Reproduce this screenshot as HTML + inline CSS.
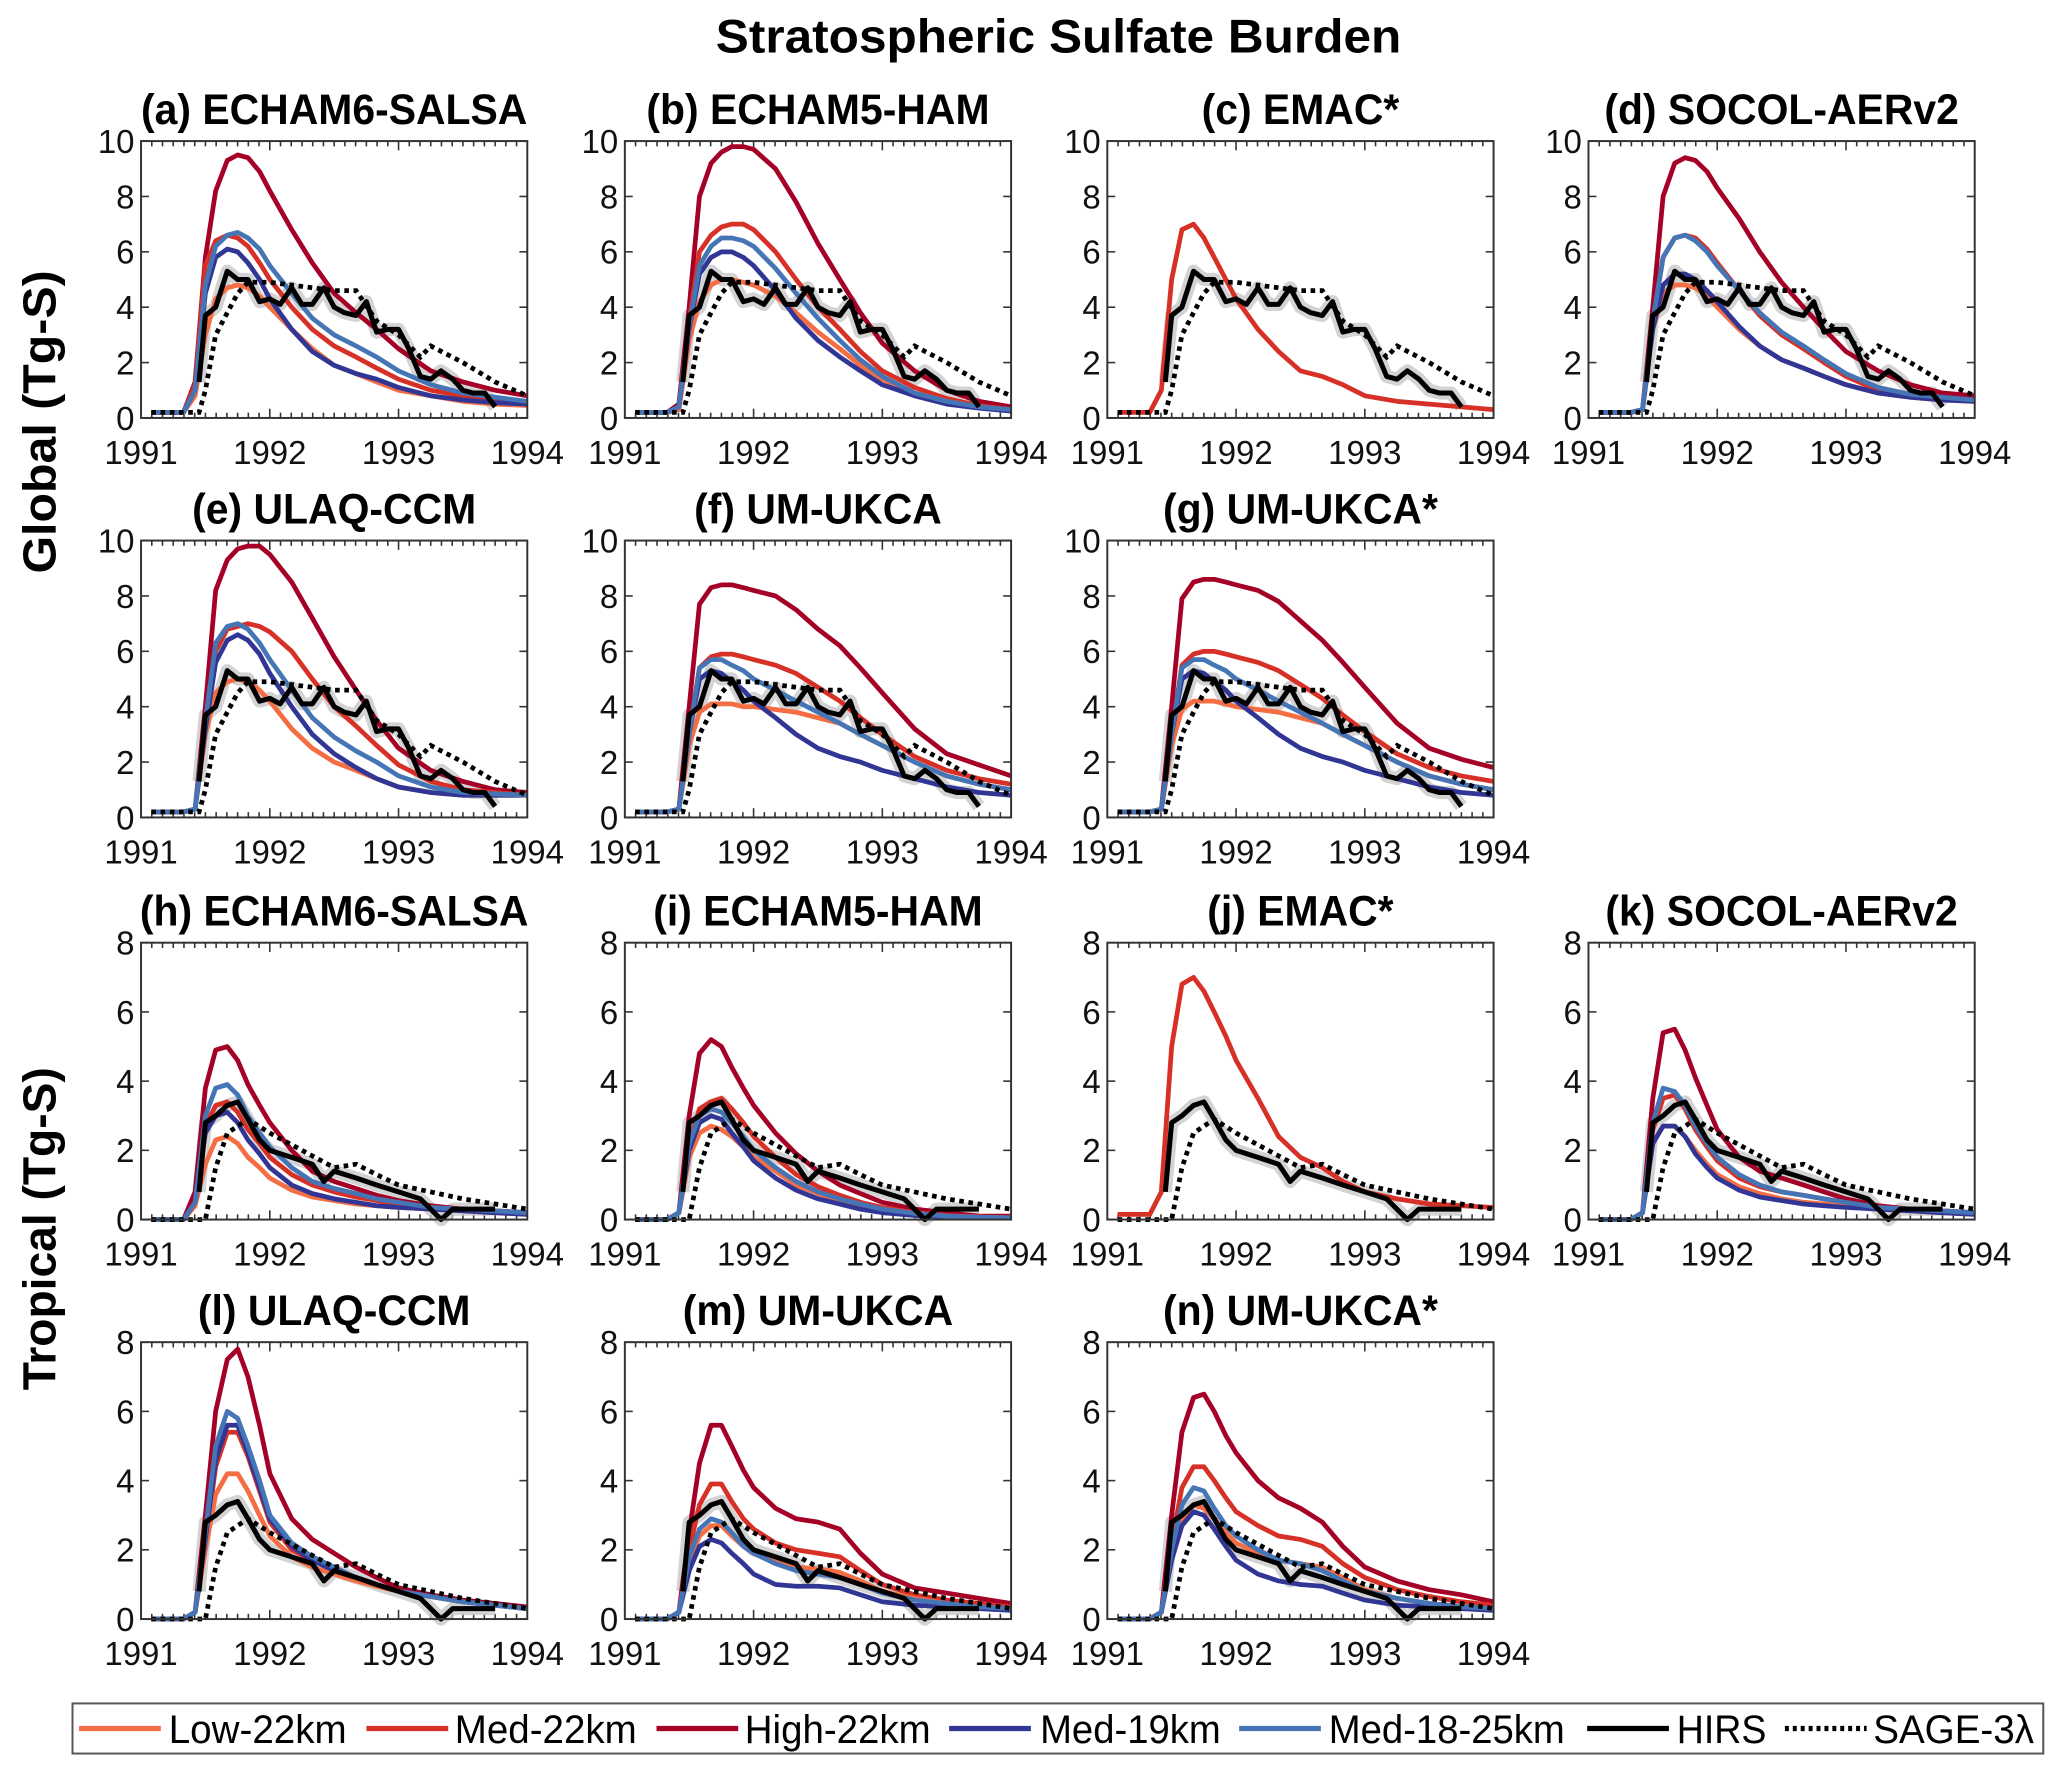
<!DOCTYPE html>
<html><head><meta charset="utf-8">
<style>
html,body{margin:0;padding:0;background:#fff;}
svg{display:block;font-family:"Liberation Sans",sans-serif;}
</style></head>
<body>
<svg id="fig" width="2067" height="1772" viewBox="0 0 1568 1344" preserveAspectRatio="none" xmlns="http://www.w3.org/2000/svg">
<rect width="1568" height="1344" fill="#fff"/>
<text x="803" y="40" text-anchor="middle" font-size="36" font-weight="bold" textLength="520" lengthAdjust="spacingAndGlyphs">Stratospheric Sulfate Burden</text>
<text transform="translate(42,320) rotate(-90)" text-anchor="middle" font-size="35" font-weight="bold" textLength="230" lengthAdjust="spacingAndGlyphs">Global (Tg-S)</text>
<text transform="translate(42,932) rotate(-90)" text-anchor="middle" font-size="35" font-weight="bold" textLength="245" lengthAdjust="spacingAndGlyphs">Tropical (Tg-S)</text>
<g id="panels"></g>
<g id="legend"></g>
</svg>
<script>
const T = [1991.08,1991.33,1991.42,1991.5,1991.58,1991.67,1991.75,1991.83,1991.92,1992.0,1992.17,1992.33,1992.5,1992.67,1992.83,1993.0,1993.25,1993.5,1993.75,1994.0];
const hirsGT = [1991.45,1991.5,1991.58,1991.67,1991.75,1991.83,1991.92,1992.0,1992.08,1992.17,1992.25,1992.33,1992.42,1992.5,1992.58,1992.67,1992.75,1992.83,1992.92,1993.0,1993.08,1993.17,1993.25,1993.33,1993.42,1993.5,1993.58,1993.67,1993.75];
const hirsG = [1.3,3.7,4.0,5.3,5.0,5.0,4.2,4.3,4.1,4.7,4.1,4.1,4.7,4.0,3.8,3.7,4.2,3.1,3.2,3.2,2.5,1.5,1.4,1.7,1.4,1.0,0.9,0.9,0.4];
const hirsTT = [1991.45,1991.5,1991.58,1991.67,1991.75,1991.83,1991.92,1992.0,1992.17,1992.33,1992.42,1992.5,1992.67,1992.83,1993.0,1993.17,1993.33,1993.42,1993.58,1993.75];
const hirsTr = [0.8,2.8,3.0,3.3,3.4,2.9,2.3,2.0,1.8,1.6,1.1,1.4,1.2,1.0,0.8,0.6,0.0,0.3,0.3,0.3];
const sageGT = [1991.08,1991.45,1991.5,1991.58,1991.67,1991.75,1991.83,1992.0,1992.5,1992.67,1992.83,1993.0,1993.17,1993.25,1993.5,1993.75,1994.0];
const sageG = [0.2,0.2,1.0,3.0,3.8,4.5,4.9,4.9,4.6,4.6,3.5,3.0,2.2,2.6,2.0,1.3,0.8];
const sageTT = [1991.08,1991.5,1991.58,1991.67,1991.83,1992.0,1992.25,1992.5,1992.67,1992.83,1993.0,1993.5,1994.0];
const sageTr = [0,0,1.5,2.5,2.9,2.5,2.0,1.5,1.6,1.3,1.0,0.6,0.3];

const panelTitles = ["(a) ECHAM6-SALSA","(b) ECHAM5-HAM","(c) EMAC*","(d) SOCOL-AERv2","(e) ULAQ-CCM","(f) UM-UKCA","(g) UM-UKCA*","(h) ECHAM6-SALSA","(i) ECHAM5-HAM","(j) EMAC*","(k) SOCOL-AERv2","(l) ULAQ-CCM","(m) UM-UKCA","(n) UM-UKCA*"];
const seriesNames = ["High-22km","Med-22km","Low-22km","Med-19km","Med-18-25km"];
const yTicksGlobal = [0,2,4,6,8,10];
const yTicksTrop = [0,2,4,6,8];
const xTicks = [1991,1992,1993,1994];

const dA = [
[0.2,0.2,1.3,5.8,8.2,9.3,9.5,9.4,8.9,8.2,6.8,5.6,4.5,3.8,3.2,2.5,1.7,1.3,1.0,0.8],
[0.2,0.2,1.2,5.5,6.4,6.6,6.5,6.2,5.6,5.0,4.0,3.2,2.6,2.2,1.8,1.4,1.0,0.8,0.65,0.55],
[0.2,0.2,0.8,3.0,4.3,4.7,4.8,4.7,4.4,4.0,3.2,2.5,1.9,1.6,1.3,1.0,0.8,0.6,0.5,0.45],
[0.2,0.2,1.0,4.5,5.8,6.1,6.0,5.6,5.0,4.3,3.2,2.4,1.9,1.6,1.4,1.1,0.8,0.65,0.55,0.5],
[0.2,0.2,1.0,4.8,6.2,6.6,6.7,6.5,6.1,5.5,4.5,3.6,3.0,2.6,2.2,1.7,1.2,0.9,0.75,0.6]];
const dB = [
[0.2,0.2,0.5,4.0,8.0,9.2,9.6,9.8,9.8,9.7,9.0,7.8,6.3,5.0,3.8,2.7,1.7,1.0,0.6,0.4],
[0.2,0.2,0.4,3.5,6.0,6.6,6.9,7.0,7.0,6.8,6.0,5.0,4.0,3.2,2.4,1.7,1.1,0.7,0.45,0.3],
[0.2,0.2,0.3,2.8,4.2,4.8,5.0,5.0,4.9,4.8,4.4,3.8,3.1,2.5,1.9,1.4,0.9,0.6,0.4,0.3],
[0.2,0.2,0.4,3.2,5.2,5.8,6.0,6.0,5.8,5.5,4.6,3.6,2.8,2.2,1.7,1.2,0.8,0.5,0.35,0.25],
[0.2,0.2,0.4,3.3,5.5,6.2,6.5,6.5,6.4,6.2,5.4,4.5,3.6,2.8,2.1,1.5,0.9,0.6,0.4,0.3]];
const dC = [null,
[0.2,0.2,1.0,5.0,6.8,7.0,6.5,5.8,5.0,4.3,3.2,2.4,1.7,1.5,1.2,0.8,0.6,0.5,0.4,0.3],
null,null,null];
const dD = [
[0.2,0.2,0.3,4.0,8.0,9.2,9.4,9.3,8.9,8.3,7.2,6.0,4.9,4.0,3.2,2.4,1.7,1.2,0.9,0.8],
[0.2,0.2,0.3,3.5,5.8,6.5,6.6,6.5,6.1,5.6,4.6,3.7,3.0,2.5,2.0,1.5,1.0,0.8,0.7,0.6],
[0.2,0.2,0.3,3.2,4.5,4.8,4.8,4.7,4.4,4.0,3.2,2.6,2.1,1.8,1.5,1.2,0.9,0.75,0.65,0.6],
[0.2,0.2,0.3,3.2,4.8,5.2,5.2,5.0,4.6,4.2,3.3,2.6,2.1,1.8,1.5,1.2,0.9,0.75,0.65,0.6],
[0.2,0.2,0.3,3.5,5.8,6.5,6.6,6.4,6.0,5.5,4.6,3.8,3.1,2.6,2.1,1.6,1.1,0.85,0.75,0.65]];
const dE = [
[0.2,0.2,0.3,4.0,8.2,9.3,9.7,9.8,9.8,9.5,8.5,7.2,5.8,4.6,3.5,2.5,1.7,1.3,1.0,0.9],
[0.2,0.2,0.3,3.5,6.0,6.8,6.9,7.0,6.9,6.7,6.0,5.0,4.0,3.3,2.6,1.9,1.3,1.0,0.9,0.8],
[0.2,0.2,0.3,3.0,4.5,4.9,5.0,4.9,4.6,4.2,3.2,2.5,2.0,1.7,1.4,1.1,0.9,0.8,0.8,0.8],
[0.2,0.2,0.3,3.2,5.6,6.4,6.6,6.4,5.9,5.2,4.0,3.0,2.3,1.8,1.4,1.1,0.9,0.8,0.8,0.8],
[0.2,0.2,0.3,3.5,6.3,6.9,7.0,6.8,6.3,5.7,4.6,3.6,2.9,2.4,2.0,1.5,1.1,0.9,0.85,0.8]];
const dF = [
[0.2,0.2,0.3,4.0,7.7,8.3,8.4,8.4,8.3,8.2,8.0,7.5,6.8,6.2,5.4,4.5,3.2,2.3,1.9,1.5],
[0.2,0.2,0.3,3.0,5.4,5.8,5.9,5.9,5.8,5.7,5.5,5.2,4.7,4.2,3.6,3.0,2.2,1.7,1.4,1.2],
[0.2,0.2,0.3,2.6,3.8,4.1,4.1,4.1,4.0,4.0,3.9,3.8,3.6,3.4,3.0,2.6,2.0,1.5,1.2,1.0],
[0.2,0.2,0.3,3.0,5.0,5.3,5.2,4.9,4.6,4.2,3.6,3.0,2.5,2.2,2.0,1.7,1.4,1.1,0.9,0.8],
[0.2,0.2,0.3,3.0,5.4,5.7,5.7,5.5,5.3,5.0,4.6,4.2,3.8,3.4,3.0,2.6,2.0,1.5,1.2,1.0]];
const dG = [
[0.2,0.2,0.3,4.0,7.9,8.5,8.6,8.6,8.5,8.4,8.2,7.8,7.1,6.4,5.6,4.7,3.4,2.5,2.1,1.8],
[0.2,0.2,0.3,3.0,5.5,5.9,6.0,6.0,5.9,5.8,5.6,5.3,4.8,4.3,3.7,3.1,2.3,1.8,1.5,1.3],
[0.2,0.2,0.3,2.6,3.9,4.2,4.2,4.2,4.1,4.0,3.9,3.8,3.6,3.4,3.0,2.6,2.0,1.5,1.2,1.0],
[0.2,0.2,0.3,3.0,5.0,5.3,5.2,4.9,4.6,4.2,3.6,3.0,2.5,2.2,2.0,1.7,1.4,1.1,0.9,0.8],
[0.2,0.2,0.3,3.0,5.4,5.7,5.7,5.5,5.3,5.0,4.6,4.2,3.8,3.4,3.0,2.6,2.0,1.5,1.2,1.0]];
const dH = [
[0,0,0.8,3.8,4.9,5.0,4.6,3.9,3.3,2.8,2.0,1.4,1.1,0.9,0.7,0.55,0.4,0.3,0.25,0.2],
[0,0,0.5,2.7,3.3,3.4,3.1,2.6,2.2,1.8,1.3,1.0,0.8,0.65,0.55,0.45,0.35,0.3,0.25,0.2],
[0,0,0.4,1.6,2.3,2.4,2.2,1.8,1.5,1.2,0.85,0.65,0.55,0.45,0.4,0.35,0.3,0.25,0.2,0.15],
[0,0,0.5,2.5,3.0,3.1,2.8,2.3,1.9,1.5,1.0,0.75,0.6,0.5,0.4,0.35,0.3,0.25,0.2,0.15],
[0,0,0.5,3.0,3.8,3.9,3.6,3.0,2.5,2.1,1.5,1.1,0.9,0.75,0.6,0.5,0.35,0.3,0.25,0.2]];
const dI = [
[0,0,0.2,3.0,4.8,5.2,5.0,4.4,3.8,3.3,2.5,1.9,1.4,1.0,0.75,0.5,0.3,0.2,0.1,0.1],
[0,0,0.2,2.2,3.2,3.4,3.5,3.2,2.8,2.4,1.8,1.3,0.95,0.7,0.5,0.35,0.2,0.12,0.08,0.05],
[0,0,0.2,1.8,2.5,2.7,2.6,2.4,2.1,1.8,1.4,1.0,0.75,0.55,0.4,0.3,0.18,0.1,0.07,0.05],
[0,0,0.2,2.0,2.8,3.0,2.9,2.5,2.1,1.7,1.2,0.85,0.6,0.45,0.3,0.2,0.12,0.08,0.05,0.05],
[0,0,0.2,2.2,3.0,3.2,3.1,2.8,2.4,2.0,1.5,1.1,0.8,0.6,0.45,0.3,0.18,0.1,0.07,0.05]];
const dJ = [null,
[0.15,0.15,0.8,5.0,6.8,7.0,6.6,6.0,5.3,4.6,3.5,2.4,1.8,1.5,1.1,0.8,0.6,0.45,0.4,0.35],
null,null,null];
const dK = [
[0,0,0.2,3.5,5.4,5.5,4.9,4.1,3.3,2.6,1.8,1.4,1.2,1.0,0.8,0.6,0.4,0.3,0.25,0.2],
[0,0,0.2,2.6,3.5,3.6,3.2,2.6,2.1,1.7,1.2,0.95,0.8,0.7,0.6,0.5,0.35,0.3,0.25,0.2],
[0,0,0.2,2.2,2.7,2.7,2.4,2.0,1.6,1.3,0.95,0.75,0.6,0.5,0.45,0.4,0.3,0.25,0.2,0.15],
[0,0,0.2,2.2,2.7,2.7,2.4,1.9,1.5,1.2,0.85,0.65,0.55,0.45,0.4,0.35,0.3,0.25,0.2,0.15],
[0,0,0.2,2.8,3.8,3.7,3.3,2.7,2.2,1.8,1.3,1.0,0.8,0.7,0.6,0.5,0.35,0.3,0.25,0.2]];
const dL = [
[0,0,0.2,3.0,6.0,7.5,7.8,7.0,5.6,4.2,2.9,2.3,1.9,1.5,1.2,0.9,0.7,0.55,0.45,0.35],
[0,0,0.2,2.2,4.4,5.4,5.4,4.7,3.7,2.8,2.0,1.7,1.4,1.2,1.0,0.8,0.65,0.5,0.4,0.3],
[0,0,0.2,2.0,3.6,4.2,4.2,3.7,3.0,2.4,1.8,1.5,1.3,1.1,0.95,0.8,0.65,0.5,0.4,0.3],
[0,0,0.2,2.3,4.6,5.6,5.6,4.8,3.8,2.9,2.1,1.7,1.4,1.2,1.0,0.8,0.65,0.5,0.4,0.3],
[0,0,0.2,2.5,5.0,6.0,5.8,5.0,4.0,3.0,2.2,1.8,1.5,1.2,1.0,0.8,0.65,0.5,0.4,0.3]];
const dM = [
[0,0,0.2,2.5,4.5,5.6,5.6,5.0,4.3,3.8,3.2,2.9,2.8,2.6,1.9,1.3,0.9,0.75,0.6,0.45],
[0,0,0.2,2.0,3.3,3.9,3.9,3.4,2.9,2.6,2.2,2.0,1.9,1.8,1.4,1.0,0.7,0.55,0.45,0.35],
[0,0,0.2,1.6,2.4,2.7,2.7,2.4,2.1,1.9,1.7,1.5,1.45,1.35,1.1,0.8,0.6,0.45,0.35,0.3],
[0,0,0.2,1.4,2.1,2.3,2.2,1.9,1.6,1.3,1.0,0.95,0.95,0.9,0.7,0.5,0.4,0.35,0.3,0.25],
[0,0,0.2,1.8,2.6,2.9,2.8,2.5,2.1,1.9,1.6,1.4,1.3,1.2,1.0,0.75,0.55,0.45,0.35,0.3]];
const dN = [
[0,0,0.2,3.0,5.4,6.4,6.5,6.0,5.3,4.8,4.0,3.5,3.2,2.8,2.1,1.5,1.1,0.85,0.7,0.5],
[0,0,0.2,2.2,3.8,4.4,4.4,4.0,3.5,3.1,2.7,2.4,2.3,2.1,1.6,1.2,0.85,0.65,0.5,0.4],
[0,0,0.2,1.8,2.9,3.3,3.2,2.9,2.5,2.2,1.9,1.7,1.6,1.5,1.2,0.85,0.6,0.45,0.35,0.3],
[0,0,0.2,1.7,2.7,3.1,3.0,2.6,2.1,1.7,1.3,1.1,1.0,0.95,0.75,0.55,0.4,0.35,0.3,0.25],
[0,0,0.2,2.0,3.3,3.8,3.7,3.2,2.7,2.4,2.0,1.7,1.6,1.4,1.1,0.8,0.6,0.45,0.35,0.3]];
const panelData = [dA,dB,dC,dD,dE,dF,dG,dH,dI,dJ,dK,dL,dM,dN];

const colors = ["#a50026","#d73027","#f46d43","#313695","#4575b4"];
const colX = [107,474,840,1205];
const rowY = [107,410,715,1018];
const W = 293, H = 210;
const NS = "http://www.w3.org/2000/svg";
const root = document.getElementById('panels');
function mk(tag, attrs, parent){
  const e = document.createElementNS(NS, tag);
  for (const k in attrs) e.setAttribute(k, attrs[k]);
  parent.appendChild(e); return e;
}
function pathD(ts, vs, sx, sy){
  let d = "";
  for (let i=0;i<ts.length;i++){ d += (i?"L":"M") + sx(ts[i]).toFixed(1) + "," + sy(vs[i]).toFixed(1); }
  return d;
}
const layout = [[0,0],[0,1],[0,2],[0,3],[1,0],[1,1],[1,2],[2,0],[2,1],[2,2],[2,3],[3,0],[3,1],[3,2]];
panelData.forEach((data, p) => {
  const [r,c] = layout[p];
  const x0 = colX[c], y0 = rowY[r];
  const trop = r >= 2;
  const ymax = trop ? 8 : 10;
  const sx = t => x0 + (t - 1991) / 3 * W;
  const sy = v => y0 + H - v / ymax * H;
  const g = mk('g', {}, root);
  
  
  const title = mk('text', {x: x0 + W/2, y: y0 - 13, 'text-anchor':'middle', 'font-size':32, 'font-weight':'bold', transform:'translate(' + (x0+W/2) + ',0) scale(0.97,1) translate(' + (-(x0+W/2)) + ',0)'}, g);
  
  
  title.textContent = panelTitles[p];
  const tk = mk('g', {stroke:'#333', 'stroke-width':1.2}, g);
  
  
  for (let m=1;m<36;m++){
    const x = sx(1991 + m/12), len = (m%12===0)?7:4;
    mk('line',{x1:x,y1:y0+H,x2:x,y2:y0+H-len},tk);
    mk('line',{x1:x,y1:y0,x2:x,y2:y0+len},tk);
  }
  const ticks = trop ? yTicksTrop : yTicksGlobal;
  ticks.forEach(v => {
    mk('line',{x1:x0,y1:sy(v),x2:x0+6,y2:sy(v)},tk);
    mk('line',{x1:x0+W,y1:sy(v),x2:x0+W-6,y2:sy(v)},tk);
    const tl = mk('text',{x:x0-5,y:sy(v)+9,'text-anchor':'end','font-size':25,fill:'#111'},g);
    
    
    tl.textContent = v;
  });
  xTicks.forEach(t => {
    const tl = mk('text',{x:sx(t),y:y0+H+35,'text-anchor':'middle','font-size':25,fill:'#111'},g);
    
    
    tl.textContent = t;
  });
  for (let s=0;s<5;s++){
    if (!data[s]) continue;
    const pe = mk('path',{d:pathD(T,data[s],sx,sy),fill:'none',stroke:colors[s],'stroke-width':3.6,'stroke-linejoin':'round'},g);
    
    
  }
  const st = trop ? sageTT : sageGT, sv = trop ? sageTr : sageG;
  const sp = mk('path',{d:pathD(st,sv,sx,sy),fill:'none',stroke:'#000','stroke-width':3.6,'stroke-dasharray':'3.5 3.5'},g);
  
  
  const ht = trop ? hirsTT : hirsGT, hv = trop ? hirsTr : hirsG;
  const band = mk('path',{d:pathD(ht,hv,sx,sy),fill:'none',stroke:'#c8c8c8','stroke-width':10,'stroke-linejoin':'round',opacity:0.8},g);
  
  
  g.insertBefore(band, g.querySelector('path'));
  const hp = mk('path',{d:pathD(ht,hv,sx,sy),fill:'none',stroke:'#000','stroke-width':3.8,'stroke-linejoin':'round'},g);
  
  
  const box = mk('rect',{x:x0,y:y0,width:W,height:H,fill:'none',stroke:'#333','stroke-width':1.5},g);
  
  
});
const lg = document.getElementById('legend');
mk('rect',{x:55,y:1292,width:1495,height:38,fill:'#fff',stroke:'#555','stroke-width':1.5},lg);
const legNames = ["Low-22km","Med-22km","High-22km","Med-19km","Med-18-25km","HIRS","SAGE-3λ"];
const legColors = ["#f46d43","#d73027","#a50026","#313695","#4575b4","#000","#000"];
const legX = [60,278,498,720,940,1204,1354];
const legTx = [128,345,565,789,1008,1272,1421];
const legW = [135,138,141,137,179,68,122];
legNames.forEach((n,i) => {
  const e = mk('g',{},lg);
  
  
  const attrs = {x1:legX[i],y1:1311,x2:legX[i]+62,y2:1311,stroke:legColors[i],'stroke-width':4};
  if (i===6) attrs['stroke-dasharray'] = '3 3';
  mk('line',attrs,e);
  const t = mk('text',{x:legTx[i],y:1322,'font-size':30,fill:'#000',textLength:legW[i],lengthAdjust:'spacingAndGlyphs'},e);
  t.textContent = n;
});
</script>
</body></html>
